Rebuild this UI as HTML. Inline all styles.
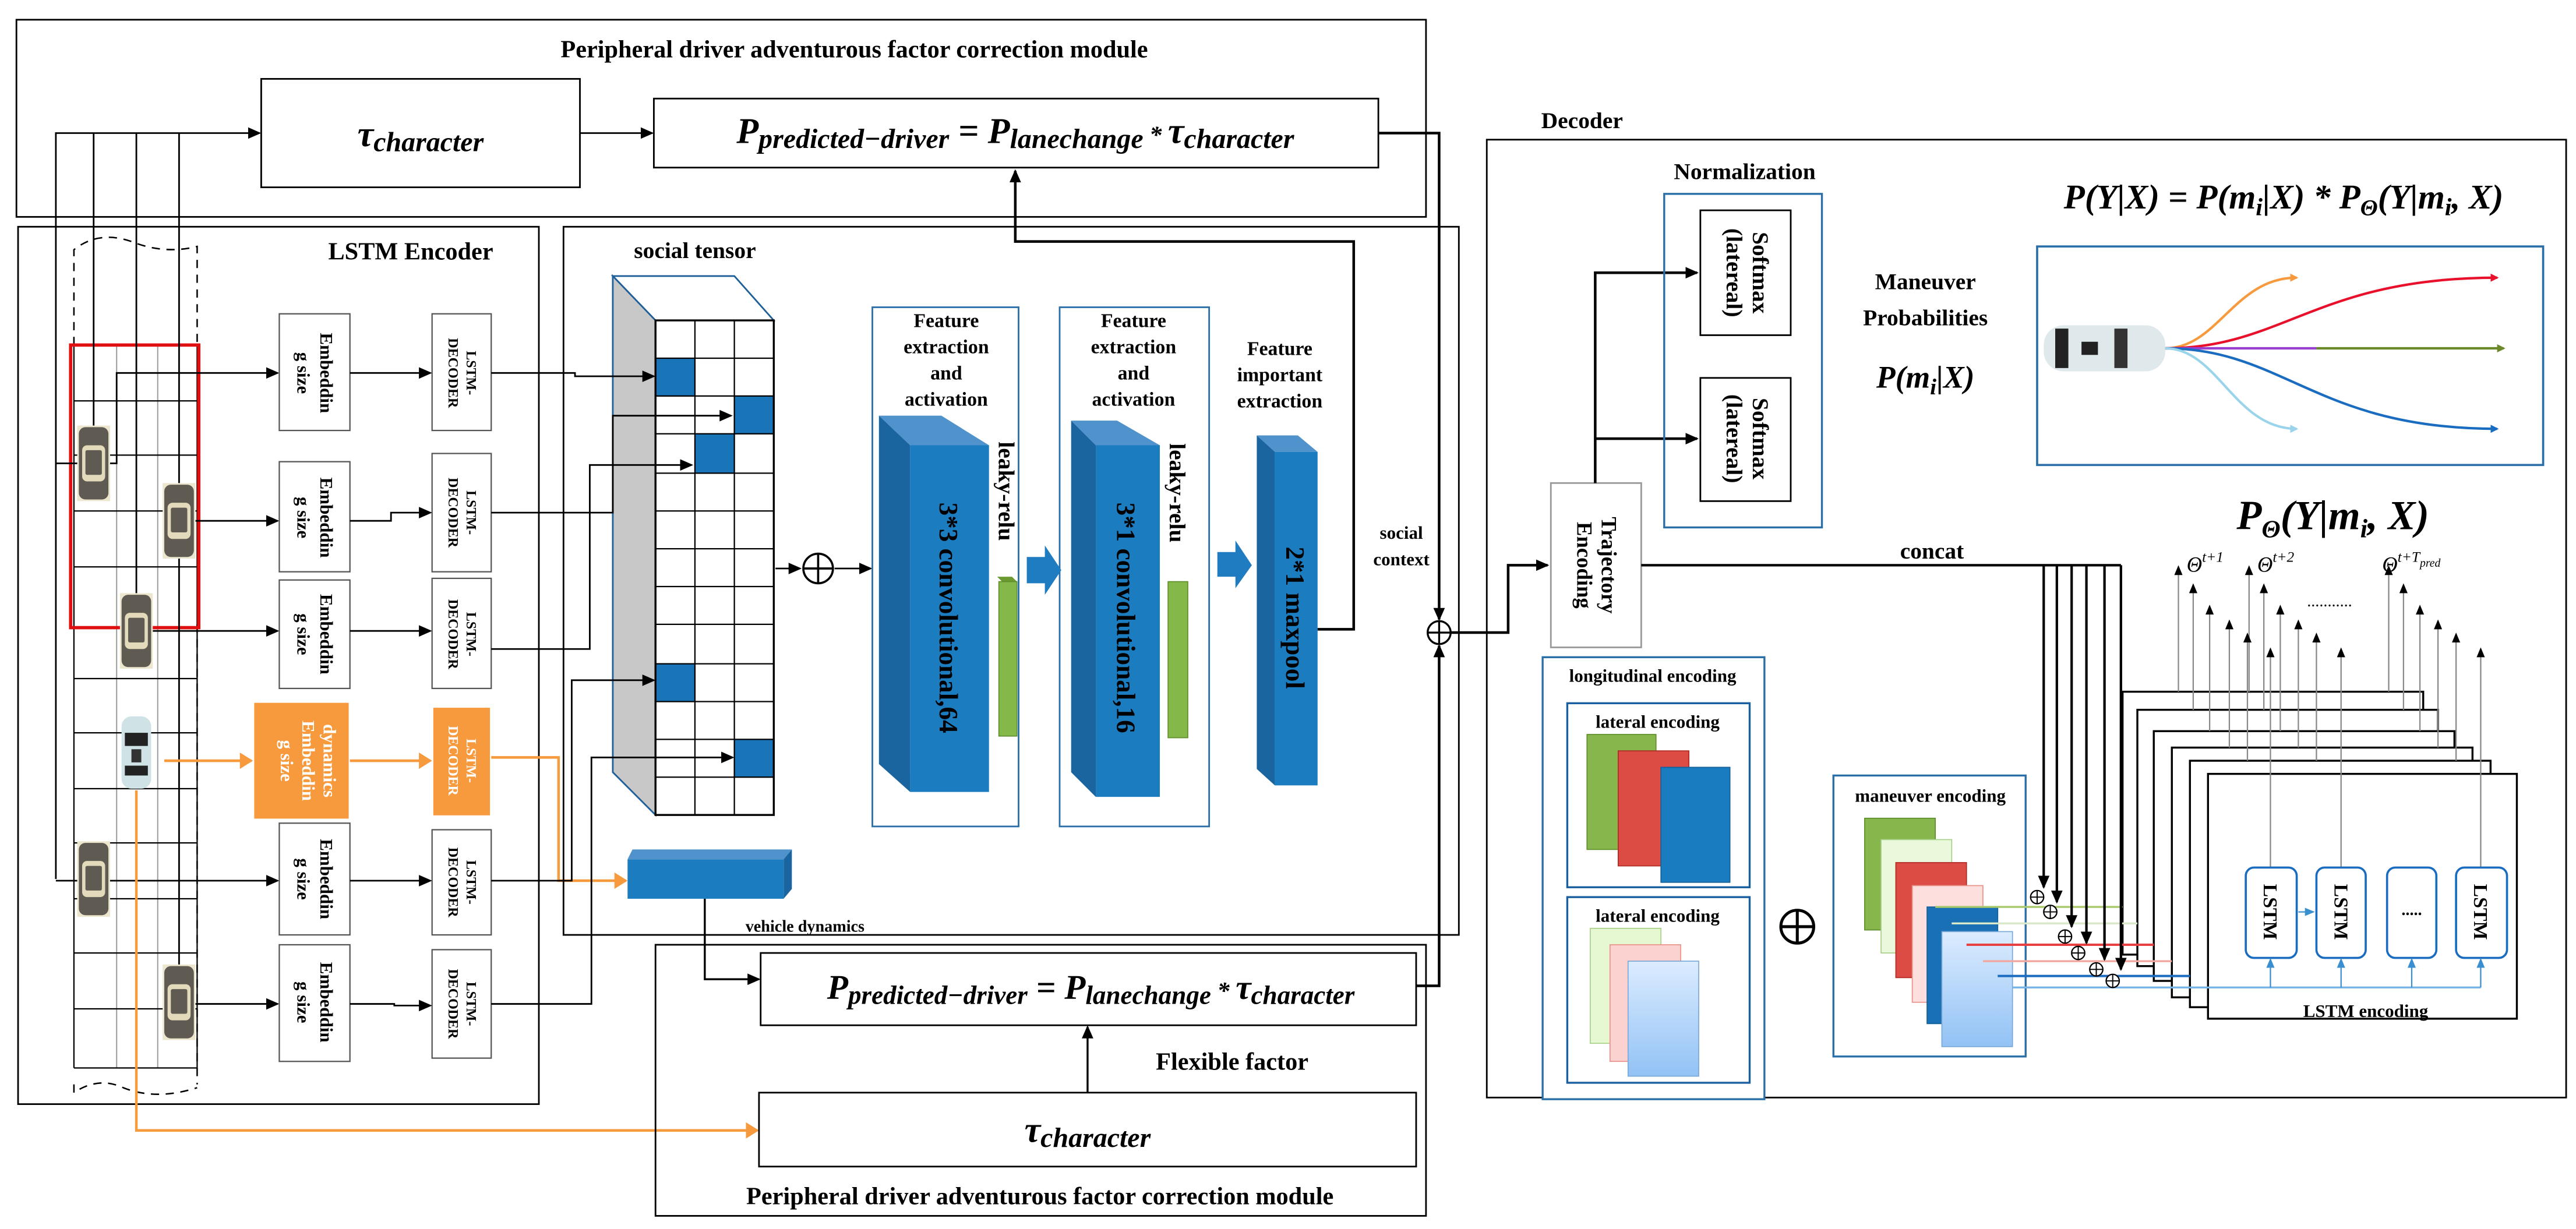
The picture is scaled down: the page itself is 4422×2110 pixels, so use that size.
<!DOCTYPE html>
<html><head><meta charset="utf-8"><style>
html,body{margin:0;padding:0;background:#fff}
svg{display:block}
text{font-family:"Liberation Serif",serif}
.b{font-weight:bold}
.f{font-family:"Liberation Serif",serif;font-style:italic;font-weight:bold}
</style></head><body>
<svg width="4422" height="2110" viewBox="0 0 1568 748" preserveAspectRatio="none" xmlns="http://www.w3.org/2000/svg">
<defs>
<marker id="a" markerUnits="userSpaceOnUse" markerWidth="8" markerHeight="8" refX="7" refY="4" orient="auto"><path d="M0,0.5 L8,4 L0,7.5 Z" fill="#000"/></marker>
<marker id="o" markerUnits="userSpaceOnUse" markerWidth="8" markerHeight="10" refX="7" refY="5" orient="auto"><path d="M0,0 L8,5 L0,10 Z" fill="#f79a3e"/></marker>
<marker id="s" markerUnits="userSpaceOnUse" markerWidth="6" markerHeight="6" refX="5" refY="3" orient="auto"><path d="M0,0.5 L6,3 L0,5.5 Z" fill="#000"/></marker>
<marker id="lb" markerUnits="userSpaceOnUse" markerWidth="6" markerHeight="6" refX="5" refY="3" orient="auto"><path d="M0,0.5 L6,3 L0,5.5 Z" fill="#3a8fd0"/></marker>
<marker id="cr" markerUnits="userSpaceOnUse" markerWidth="5" markerHeight="5" refX="4" refY="2.5" orient="auto"><path d="M0,0 L5,2.5 L0,5 Z" fill="context-stroke"/></marker>
<g id="car"><rect x="-10" y="-23" width="20" height="46" fill="#ece6cf"/><rect x="-9" y="-22" width="18" height="44" rx="4" fill="#5f5b52"/><rect x="-7" y="-11" width="14" height="22" rx="3" fill="#e3dabb"/><rect x="-5" y="-8" width="10" height="15" rx="1" fill="#5f5b52"/></g>
<linearGradient id="lbg" x1="0" y1="0" x2="0" y2="1"><stop offset="0" stop-color="#dcecff"/><stop offset="1" stop-color="#92c2f5"/></linearGradient>
</defs>

<!-- TOP MODULE -->
<rect x="10" y="12" width="858" height="120" fill="none" stroke="#000" stroke-width="1"/>
<text x="520" y="35" class="b" font-size="15" text-anchor="middle">Peripheral driver adventurous factor correction module</text>
<rect x="159" y="48" width="194" height="66" fill="#fff" stroke="#000"/>
<text x="256" y="89" class="f" font-size="22" text-anchor="middle">τ<tspan font-size="17" dy="3">character</tspan></text>
<line x1="353" y1="81" x2="397" y2="81" stroke="#000" marker-end="url(#a)"/>
<rect x="398" y="60" width="441" height="42" fill="#fff" stroke="#000"/>
<text x="618" y="87" class="f" font-size="22" text-anchor="middle">P<tspan font-size="17" dy="3">predicted−driver</tspan><tspan dy="-3"> = P</tspan><tspan font-size="17" dy="3">lanechange</tspan><tspan dy="-3" font-size="15"> * </tspan><tspan>τ</tspan><tspan font-size="17" dy="3">character</tspan></text>
<polyline points="839,81 876,81 876,377" fill="none" stroke="#000" stroke-width="1.6" marker-end="url(#a)"/>

<!-- LSTM ENCODER -->
<rect x="11" y="138" width="317" height="534" fill="none" stroke="#000"/>
<text x="250" y="158" class="b" font-size="15" text-anchor="middle">LSTM Encoder</text>
<g stroke="#999" stroke-width="0.7">
<line x1="71" y1="210" x2="71" y2="650"/><line x1="96" y1="210" x2="96" y2="650"/>
</g>
<g stroke="#000" stroke-width="0.8">
<line x1="45" y1="210" x2="45" y2="650"/><line x1="120" y1="210" x2="120" y2="650"/>
<line x1="45" y1="244" x2="120" y2="244"/><line x1="45" y1="277" x2="120" y2="277"/><line x1="45" y1="311" x2="120" y2="311"/><line x1="45" y1="345" x2="120" y2="345"/><line x1="45" y1="413" x2="120" y2="413"/><line x1="45" y1="446" x2="120" y2="446"/><line x1="45" y1="480" x2="120" y2="480"/><line x1="45" y1="513" x2="120" y2="513"/><line x1="45" y1="547" x2="120" y2="547"/><line x1="45" y1="580" x2="120" y2="580"/><line x1="45" y1="614" x2="120" y2="614"/><line x1="45" y1="650" x2="120" y2="650"/>
</g>
<g stroke="#000" stroke-width="0.9" stroke-dasharray="5,4" fill="none">
<path d="M45,210 L45,152 Q60,140 80,147 Q100,155 120,150 L120,210"/>
<path d="M120,380 L120,660"/><path d="M45,660 L45,665 Q60,655 75,662 Q95,670 120,662"/>
</g>
<rect x="43" y="210" width="78" height="172" fill="none" stroke="#e01010" stroke-width="2"/>
<g stroke="#000" stroke-width="1" fill="none">
<polyline points="34,535 34,81 158,81" marker-end="url(#a)"/>
<line x1="57" y1="81" x2="57" y2="282"/><line x1="83" y1="81" x2="83" y2="384"/><line x1="109" y1="81" x2="109" y2="610"/>
<line x1="34" y1="282" x2="48" y2="282"/>
<polyline points="66,282 71,282 71,227 169,227" marker-end="url(#a)"/>
<line x1="119" y1="317" x2="169" y2="317" marker-end="url(#a)"/>
<line x1="93" y1="384" x2="169" y2="384" marker-end="url(#a)"/>
<line x1="34" y1="536" x2="169" y2="536" marker-end="url(#a)"/>
<line x1="119" y1="611" x2="169" y2="611" marker-end="url(#a)"/>
</g>
<use href="#car" x="57" y="282"/><use href="#car" x="109" y="317"/><use href="#car" x="83" y="384"/><use href="#car" x="57" y="535"/><use href="#car" x="109" y="610"/>
<g transform="translate(83,458)"><rect x="-9" y="-22" width="18" height="44" rx="6" fill="#cfe3e6"/><rect x="-7" y="-12" width="14" height="8" fill="#222"/><rect x="-7" y="8" width="14" height="6" fill="#222"/><rect x="-3" y="-2" width="6" height="8" fill="#333"/></g>

<g fill="#fff" stroke="#555" stroke-width="0.8">
<rect x="170" y="191" width="43" height="71"/><rect x="263" y="191" width="36" height="71"/>
<rect x="170" y="281" width="43" height="67"/><rect x="263" y="276" width="36" height="72"/>
<rect x="170" y="353" width="43" height="66"/><rect x="263" y="352" width="36" height="67"/>
<rect x="170" y="501" width="43" height="68"/><rect x="263" y="505" width="36" height="64"/>
<rect x="170" y="575" width="43" height="71"/><rect x="263" y="578" width="36" height="66"/>
</g>
<rect x="154" y="427" width="59" height="72" fill="#f79a3e" stroke="#fff" stroke-width="1.5"/>
<rect x="263" y="430" width="36" height="67" fill="#f79a3e" stroke="#fff" stroke-width="1.5"/>
<g class="b" font-size="11" text-anchor="middle">
<text transform="translate(191,227) rotate(90)"><tspan x="0" y="-4">Embeddin</tspan><tspan x="0" y="10">g size</tspan></text>
<text transform="translate(191,315) rotate(90)"><tspan x="0" y="-4">Embeddin</tspan><tspan x="0" y="10">g size</tspan></text>
<text transform="translate(191,386) rotate(90)"><tspan x="0" y="-4">Embeddin</tspan><tspan x="0" y="10">g size</tspan></text>
<text transform="translate(191,535) rotate(90)"><tspan x="0" y="-4">Embeddin</tspan><tspan x="0" y="10">g size</tspan></text>
<text transform="translate(191,610) rotate(90)"><tspan x="0" y="-4">Embeddin</tspan><tspan x="0" y="10">g size</tspan></text>
<text transform="translate(183,463) rotate(90)" fill="#fff"><tspan x="0" y="-14">dynamics</tspan><tspan x="0" y="-1">Embeddin</tspan><tspan x="0" y="12">g size</tspan></text>
</g>
<g class="b" font-size="8.5" text-anchor="middle">
<text transform="translate(281,227) rotate(90)"><tspan x="0" y="-3">LSTM-</tspan><tspan x="0" y="8">DECODER</tspan></text>
<text transform="translate(281,312) rotate(90)"><tspan x="0" y="-3">LSTM-</tspan><tspan x="0" y="8">DECODER</tspan></text>
<text transform="translate(281,386) rotate(90)"><tspan x="0" y="-3">LSTM-</tspan><tspan x="0" y="8">DECODER</tspan></text>
<text transform="translate(281,537) rotate(90)"><tspan x="0" y="-3">LSTM-</tspan><tspan x="0" y="8">DECODER</tspan></text>
<text transform="translate(281,611) rotate(90)"><tspan x="0" y="-3">LSTM-</tspan><tspan x="0" y="8">DECODER</tspan></text>
<text transform="translate(281,463) rotate(90)" fill="#fff"><tspan x="0" y="-3">LSTM-</tspan><tspan x="0" y="8">DECODER</tspan></text>
</g>
<g stroke="#000" stroke-width="1" fill="none">
<line x1="213" y1="227" x2="262" y2="227" marker-end="url(#a)"/>
<polyline points="213,317 238,317 238,312 262,312" marker-end="url(#a)"/>
<line x1="213" y1="384" x2="262" y2="384" marker-end="url(#a)"/>
<line x1="213" y1="536" x2="262" y2="536" marker-end="url(#a)"/>
<polyline points="213,611 240,611 240,612 262,612" marker-end="url(#a)"/>
</g>
<g stroke="#f79a3e" stroke-width="1.6" fill="none">
<line x1="100" y1="463" x2="153" y2="463" marker-end="url(#o)"/>
<line x1="213" y1="463" x2="262" y2="463" marker-end="url(#o)"/>
<polyline points="299,461 340,461 340,536 381,536" marker-end="url(#o)"/>
<polyline points="83,481 83,688 461,688" marker-end="url(#o)"/>
</g>

<!-- SOCIAL TENSOR -->
<rect x="343" y="138" width="545" height="431" fill="none" stroke="#000"/>
<text x="423" y="157" class="b" font-size="14" text-anchor="middle">social tensor</text>
<polygon points="373,168 447,168 471,195 399,195" fill="#fff" stroke="#1f5f99" stroke-width="1"/>
<polygon points="373,168 399,195 399,496 373,470" fill="#c8c8c8" stroke="#1f5f99" stroke-width="1"/>
<g fill="#1a75b8">
<rect x="399" y="218" width="24" height="23"/><rect x="447" y="241" width="24" height="23"/><rect x="423" y="264" width="24" height="24"/><rect x="399" y="404" width="24" height="23"/><rect x="447" y="450" width="24" height="23"/>
</g>
<g stroke="#000" stroke-width="0.8" fill="none">
<rect x="399" y="195" width="72" height="301" stroke-width="1.2"/>
<line x1="423" y1="195" x2="423" y2="496"/><line x1="447" y1="195" x2="447" y2="496"/>
<path d="M399,218H471M399,241H471M399,264H471M399,288H471M399,311H471M399,334H471M399,357H471M399,380H471M399,404H471M399,427H471M399,450H471M399,473H471"/>
</g>
<g stroke="#000" stroke-width="1" fill="none">
<polyline points="299,227 350,227 350,229 398,229" marker-end="url(#a)"/>
<polyline points="299,312 373,312 373,253 445,253" marker-end="url(#a)"/>
<polyline points="299,395 359,395 359,283 421,283" marker-end="url(#a)"/>
<polyline points="299,536 348,536 348,414 398,414" marker-end="url(#a)"/>
<polyline points="299,611 360,611 360,461 446,461" marker-end="url(#a)"/>
<line x1="472" y1="346" x2="487" y2="346" marker-end="url(#a)"/>
<line x1="508" y1="346" x2="530" y2="346" marker-end="url(#a)"/>
</g>
<circle cx="498" cy="346" r="9" fill="none" stroke="#000" stroke-width="1.3"/><path d="M489,346H507M498,337V355" stroke="#000" stroke-width="1.3"/>

<rect x="531" y="187" width="89" height="316" fill="none" stroke="#2a6fa8" stroke-width="1"/>
<rect x="645" y="187" width="91" height="316" fill="none" stroke="#2a6fa8" stroke-width="1"/>
<g class="b" font-size="12" text-anchor="middle">
<text x="576" y="199">Feature</text><text x="576" y="215">extraction</text><text x="576" y="231">and</text><text x="576" y="247">activation</text>
<text x="690" y="199">Feature</text><text x="690" y="215">extraction</text><text x="690" y="231">and</text><text x="690" y="247">activation</text>
<text x="779" y="216">Feature</text><text x="779" y="232">important</text><text x="779" y="248">extraction</text>
</g>
<polygon points="535,253 573,253 602,271 554,271" fill="#4f92cc"/>
<polygon points="535,253 554,271 554,482 535,465" fill="#1a65a0"/>
<rect x="554" y="271" width="48" height="211" fill="#1c7cc0"/>
<polygon points="607,351 616,351 619,354 610,354" fill="#6a9a30"/><rect x="608" y="354" width="11" height="94" fill="#84b94a" stroke="#5f8e2c" stroke-width="0.6"/>
<polygon points="652,256 680,256 706,271 667,271" fill="#4f92cc"/>
<polygon points="652,256 667,271 667,485 652,470" fill="#1a65a0"/>
<rect x="667" y="271" width="39" height="214" fill="#1c7cc0"/>
<rect x="711" y="354" width="12" height="95" fill="#84b94a" stroke="#5f8e2c" stroke-width="0.6"/>
<polygon points="765,265 790,265 802,275 776,275" fill="#4f92cc"/>
<polygon points="765,265 776,275 776,478 765,468" fill="#1a65a0"/>
<rect x="776" y="275" width="26" height="203" fill="#1c7cc0"/>
<path d="M625,339 H636 V332 L646,347 L636,362 V355 H625 Z" fill="#1f7cc0"/>
<path d="M741,336 H752 V329 L762,344 L752,358 V351 H741 Z" fill="#1f7cc0"/>
<g class="b" text-anchor="middle">
<text transform="translate(578,376) rotate(90)" font-size="16" y="6">3*3 convolutional,64</text>
<text transform="translate(686,376) rotate(90)" font-size="16" y="6">3*1 convolutional,16</text>
<text transform="translate(789,376) rotate(90)" font-size="16" y="6">2*1 maxpool</text>
<text transform="translate(613,299) rotate(90)" font-size="14" y="5">leaky-relu</text>
<text transform="translate(717,300) rotate(90)" font-size="14" y="5">leaky-relu</text>
</g>
<polyline points="802,383 824,383 824,147 618,147 618,104" fill="none" stroke="#000" stroke-width="1.6" marker-end="url(#a)"/>
<text x="853" y="328" class="b" font-size="11" text-anchor="middle">social</text>
<text x="853" y="344" class="b" font-size="11" text-anchor="middle">context</text>
<circle cx="876" cy="385" r="7" fill="none" stroke="#000" stroke-width="1.2"/><path d="M869,385H883M876,378V392" stroke="#000" stroke-width="1.2"/>

<polygon points="385,517 482,517 477,523 382,523" fill="#4f92cc"/>
<polygon points="482,517 482,541 477,547 477,523" fill="#1a65a0"/>
<rect x="382" y="523" width="95" height="24" fill="#1c7cc0"/>
<text x="490" y="567" class="b" font-size="10" text-anchor="middle">vehicle dynamics</text>
<polyline points="429,547 429,596 462,596" fill="none" stroke="#000" stroke-width="1.2" marker-end="url(#a)"/>

<!-- BOTTOM MODULE -->
<rect x="399" y="575" width="469" height="165" fill="none" stroke="#000"/>
<rect x="463" y="580" width="399" height="44" fill="#fff" stroke="#000"/>
<text x="664" y="608" class="f" font-size="21" text-anchor="middle">P<tspan font-size="16" dy="3">predicted−driver</tspan><tspan dy="-3"> = P</tspan><tspan font-size="16" dy="3">lanechange</tspan><tspan dy="-3" font-size="15"> * </tspan><tspan>τ</tspan><tspan font-size="16" dy="3">character</tspan></text>
<line x1="662" y1="665" x2="662" y2="625" stroke="#000" stroke-width="1.2" marker-end="url(#a)"/>
<text x="750" y="651" class="b" font-size="15" text-anchor="middle">Flexible factor</text>
<rect x="462" y="665" width="400" height="45" fill="#fff" stroke="#000"/>
<text x="662" y="695" class="f" font-size="22" text-anchor="middle">τ<tspan font-size="17" dy="3">character</tspan></text>
<text x="633" y="733" class="b" font-size="15" text-anchor="middle">Peripheral driver adventurous factor correction module</text>
<polyline points="862,600 876,600 876,393" fill="none" stroke="#000" stroke-width="1.6" marker-end="url(#a)"/>

<!-- DECODER -->
<text x="963" y="78" class="b" font-size="14" text-anchor="middle">Decoder</text>
<rect x="905" y="85" width="657" height="583" fill="none" stroke="#000" stroke-width="1"/>
<polyline points="883,385 918,385 918,344 942,344" fill="none" stroke="#000" stroke-width="1.6" marker-end="url(#a)"/>
<rect x="944" y="294" width="55" height="100" fill="#fff" stroke="#999"/>
<text transform="translate(971,344) rotate(90)" class="b" font-size="13" text-anchor="middle"><tspan x="0" y="-4">Trajectory</tspan><tspan x="0" y="11">Encoding</tspan></text>
<polyline points="971,294 971,166 1033,166" fill="none" stroke="#000" stroke-width="1.6" marker-end="url(#a)"/>
<line x1="971" y1="267" x2="1033" y2="267" stroke="#000" stroke-width="1.6" marker-end="url(#a)"/>
<text x="1062" y="109" class="b" font-size="14" text-anchor="middle">Normalization</text>
<rect x="1013" y="118" width="96" height="203" fill="none" stroke="#2a6fa8" stroke-width="1.2"/>
<rect x="1035" y="128" width="55" height="76" fill="#fff" stroke="#000"/>
<rect x="1035" y="230" width="55" height="75" fill="#fff" stroke="#000"/>
<g class="b" font-size="14" text-anchor="middle">
<text transform="translate(1062,166) rotate(90)"><tspan x="0" y="-5">Softmax</tspan><tspan x="0" y="11">(latereal)</tspan></text>
<text transform="translate(1062,267) rotate(90)"><tspan x="0" y="-5">Softmax</tspan><tspan x="0" y="11">(latereal)</tspan></text>
<text x="1172" y="176">Maneuver</text><text x="1172" y="198">Probabilities</text>
</g>
<text x="1172" y="236" class="f" font-size="19" text-anchor="middle">P(m<tspan font-size="14" dy="4">i</tspan><tspan dy="-4">|X)</tspan></text>
<text x="1390" y="127" class="f" font-size="21" text-anchor="middle">P(Y|X) = P(m<tspan font-size="15" dy="4">i</tspan><tspan dy="-4">|X) * P</tspan><tspan font-size="14" dy="4">Θ</tspan><tspan dy="-4">(Y|m</tspan><tspan font-size="15" dy="4">i</tspan><tspan dy="-4">, X)</tspan></text>
<rect x="1240" y="150" width="308" height="133" fill="#fff" stroke="#2a6fa8" stroke-width="1.3"/>
<g transform="translate(1281,212)"><rect x="-37" y="-14" width="74" height="28" rx="12" fill="#dfe9ec"/><rect x="-30" y="-12" width="8" height="24" fill="#222"/><rect x="-14" y="-4" width="10" height="8" fill="#222"/><rect x="6" y="-12" width="8" height="24" fill="#333"/></g>
<g fill="none" stroke-width="1.5">
<path d="M1318,212 C1350,212 1360,169 1398,169" stroke="#f79a3e" marker-end="url(#cr)"/>
<path d="M1318,212 C1390,212 1410,169 1520,169" stroke="#e8102a" marker-end="url(#cr)"/>
<path d="M1318,212 L1410,212" stroke="#9a40d0"/>
<path d="M1410,212 L1524,212" stroke="#6a8a2a" marker-end="url(#cr)"/>
<path d="M1318,212 C1390,212 1410,261 1520,261" stroke="#1a6cc0" marker-end="url(#cr)"/>
<path d="M1318,212 C1350,212 1360,261 1398,261" stroke="#9ad4ea" marker-end="url(#cr)"/>
</g>
<text x="1420" y="322" class="f" font-size="25" text-anchor="middle">P<tspan font-size="15" dy="5">Θ</tspan><tspan dy="-5">(Y|m</tspan><tspan font-size="16" dy="5">i</tspan><tspan dy="-5">, X)</tspan></text>
<text x="1176" y="340" class="b" font-size="14" text-anchor="middle">concat</text>

<rect x="939" y="400" width="135" height="269" fill="#fff" stroke="#2a6fa8" stroke-width="1.2"/>
<text x="1006" y="415" class="b" font-size="11" text-anchor="middle">longitudinal encoding</text>
<rect x="954" y="428" width="111" height="112" fill="#fff" stroke="#1a5fa0" stroke-width="1.2"/>
<text x="1009" y="443" class="b" font-size="11" text-anchor="middle">lateral encoding</text>
<rect x="966" y="447" width="42" height="70" fill="#86b64c" stroke="#5f8e2c" stroke-width="0.6"/>
<rect x="985" y="457" width="43" height="70" fill="#dc4c44" stroke="#b02a22" stroke-width="0.6"/>
<rect x="1011" y="467" width="42" height="70" fill="#1a7cc0" stroke="#14609a" stroke-width="0.6"/>
<rect x="954" y="546" width="111" height="113" fill="#fff" stroke="#1a5fa0" stroke-width="1.2"/>
<text x="1009" y="561" class="b" font-size="11" text-anchor="middle">lateral encoding</text>
<rect x="968" y="565" width="43" height="70" fill="#e6f8d2" stroke="#a8d08a" stroke-width="0.6"/>
<rect x="980" y="575" width="43" height="71" fill="#fcd2d0" stroke="#e89088" stroke-width="0.6"/>
<rect x="991" y="585" width="43" height="70" fill="url(#lbg)" stroke="#7aa8d8" stroke-width="0.6"/>
<circle cx="1094" cy="564" r="10" fill="none" stroke="#000" stroke-width="1.8"/><path d="M1084,564H1104M1094,554V574" stroke="#000" stroke-width="1.8"/>

<rect x="1116" y="472" width="117" height="171" fill="#fff" stroke="#2a6fa8" stroke-width="1.2"/>
<text x="1175" y="488" class="b" font-size="11" text-anchor="middle">maneuver encoding</text>
<rect x="1135" y="498" width="43" height="68" fill="#86b64c" stroke="#5f8e2c" stroke-width="0.6"/>
<rect x="1145" y="511" width="43" height="69" fill="#eaf8dc" stroke="#a8d08a" stroke-width="0.6"/>
<rect x="1154" y="525" width="43" height="70" fill="#dc4c44" stroke="#b02a22" stroke-width="0.6"/>
<rect x="1164" y="539" width="43" height="71" fill="#fde0de" stroke="#e89088" stroke-width="0.6"/>
<rect x="1173" y="552" width="43" height="71" fill="#1a70b4" stroke="#14609a" stroke-width="0.6"/>
<rect x="1182" y="567" width="43" height="70" fill="url(#lbg)" stroke="#7aa8d8" stroke-width="0.6"/>

<g fill="#fff" stroke="#000" stroke-width="1.2">
<rect x="1292" y="421" width="183" height="160"/>
<rect x="1301" y="432" width="183" height="156"/>
<rect x="1311" y="445" width="183" height="152"/>
<rect x="1322" y="455" width="183" height="152"/>
<rect x="1333" y="463" width="183" height="150"/>
<rect x="1344" y="471" width="188" height="149"/>
</g>
<g stroke="#888" stroke-width="0.8" fill="none">
<line x1="1326" y1="421" x2="1326" y2="345" marker-end="url(#s)"/><line x1="1369" y1="421" x2="1369" y2="345" marker-end="url(#s)"/><line x1="1454" y1="421" x2="1454" y2="345" marker-end="url(#s)"/>
<line x1="1335" y1="432" x2="1335" y2="356" marker-end="url(#s)"/><line x1="1378" y1="432" x2="1378" y2="356" marker-end="url(#s)"/><line x1="1463" y1="432" x2="1463" y2="356" marker-end="url(#s)"/>
<line x1="1345" y1="445" x2="1345" y2="369" marker-end="url(#s)"/><line x1="1388" y1="445" x2="1388" y2="369" marker-end="url(#s)"/><line x1="1473" y1="445" x2="1473" y2="369" marker-end="url(#s)"/>
<line x1="1357" y1="455" x2="1357" y2="378" marker-end="url(#s)"/><line x1="1399" y1="455" x2="1399" y2="378" marker-end="url(#s)"/><line x1="1484" y1="455" x2="1484" y2="378" marker-end="url(#s)"/>
<line x1="1368" y1="463" x2="1368" y2="386" marker-end="url(#s)"/><line x1="1410" y1="463" x2="1410" y2="386" marker-end="url(#s)"/><line x1="1495" y1="463" x2="1495" y2="386" marker-end="url(#s)"/>
<line x1="1382" y1="528" x2="1382" y2="395" marker-end="url(#s)"/><line x1="1425" y1="528" x2="1425" y2="395" marker-end="url(#s)"/><line x1="1510" y1="528" x2="1510" y2="395" marker-end="url(#s)"/>
</g>
<text x="1331" y="348" font-style="italic" font-size="13">Θ<tspan font-size="9" dy="-6">t+1</tspan></text>
<text x="1374" y="348" font-style="italic" font-size="13">Θ<tspan font-size="9" dy="-6">t+2</tspan></text>
<text x="1450" y="348" font-style="italic" font-size="13">Θ<tspan font-size="9" dy="-6">t+T</tspan><tspan font-size="7" dy="3">pred</tspan></text>
<text x="1418" y="369" font-size="10" text-anchor="middle">...........</text>
<g fill="#fff" stroke="#1a6cc0" stroke-width="1.3">
<rect x="1367" y="528" width="31" height="55" rx="5"/><rect x="1410" y="528" width="30" height="55" rx="5"/><rect x="1453" y="528" width="30" height="55" rx="5"/><rect x="1495" y="528" width="31" height="55" rx="5"/>
</g>
<g class="b" font-size="12" text-anchor="middle">
<text transform="translate(1382,555) rotate(90)" y="4">LSTM</text>
<text transform="translate(1425,555) rotate(90)" y="4">LSTM</text>
<text transform="translate(1510,555) rotate(90)" y="4">LSTM</text>
</g>
<text x="1468" y="557" class="b" font-size="10" text-anchor="middle">.....</text>
<line x1="1399" y1="555" x2="1408" y2="555" stroke="#3a8fd0" stroke-width="0.8" marker-end="url(#lb)"/>
<text x="1440" y="619" class="b" font-size="11" text-anchor="middle">LSTM encoding</text>
<polyline points="1225,601 1510,601" fill="none" stroke="#7ab4e6" stroke-width="1.2"/>
<g stroke="#3a8fd0" stroke-width="0.8">
<line x1="1382" y1="601" x2="1382" y2="584" marker-end="url(#lb)"/><line x1="1425" y1="601" x2="1425" y2="584" marker-end="url(#lb)"/><line x1="1468" y1="601" x2="1468" y2="584" marker-end="url(#lb)"/><line x1="1510" y1="601" x2="1510" y2="584" marker-end="url(#lb)"/>
</g>
<line x1="1178" y1="552" x2="1292" y2="552" stroke="#a8c86a" stroke-width="1.2"/>
<line x1="1188" y1="562" x2="1301" y2="562" stroke="#d8e8c8" stroke-width="1.2"/>
<line x1="1197" y1="575" x2="1311" y2="575" stroke="#e84040" stroke-width="1.4"/>
<line x1="1207" y1="585" x2="1322" y2="585" stroke="#f0a8a0" stroke-width="1.2"/>
<line x1="1216" y1="594" x2="1333" y2="594" stroke="#1a6cc0" stroke-width="1.4"/>
<g stroke="#000" stroke-width="1.5" fill="none">
<polyline points="999,344 1291,344"/>
<line x1="1244" y1="344" x2="1244" y2="540" marker-end="url(#a)"/>
<line x1="1252" y1="344" x2="1252" y2="549" marker-end="url(#a)"/>
<line x1="1261" y1="344" x2="1261" y2="564" marker-end="url(#a)"/>
<line x1="1270" y1="344" x2="1270" y2="574" marker-end="url(#a)"/>
<line x1="1281" y1="344" x2="1281" y2="584" marker-end="url(#a)"/>
<line x1="1291" y1="344" x2="1291" y2="590" marker-end="url(#a)"/>
</g>
<g fill="#fff" stroke="#000" stroke-width="0.8">
<circle cx="1240" cy="546" r="4"/><circle cx="1248" cy="555" r="4"/><circle cx="1257" cy="570" r="4"/><circle cx="1265" cy="580" r="4"/><circle cx="1276" cy="590" r="4"/><circle cx="1286" cy="597" r="4"/>
</g>
<path d="M1236,546h8M1240,542v8M1244,555h8M1248,551v8M1253,570h8M1257,566v8M1261,580h8M1265,576v8M1272,590h8M1276,586v8M1282,597h8M1286,593v8" stroke="#000" stroke-width="0.7"/>
</svg>
</body></html>
